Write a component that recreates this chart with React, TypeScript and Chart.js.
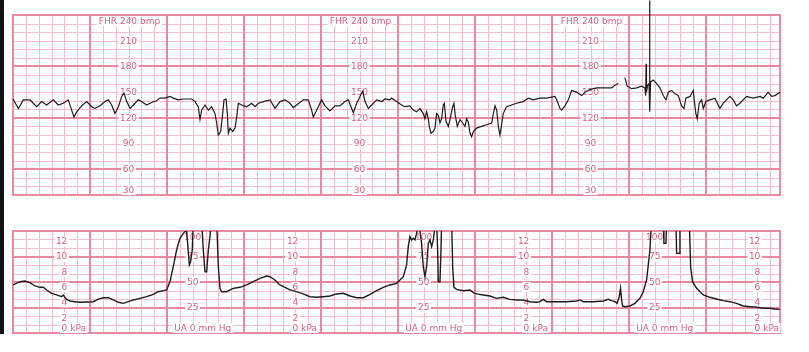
import React, { useEffect, useRef } from "react";
import { Chart, registerables } from "chart.js";
Chart.register(...registerables);

// time in seconds from strip start
const FHR_TIME = [0,4.2,8,13.2,15.8,18.4,22.3,26.2,31.4,35.3,39.2,43.1,45.7,47.5,49.6,53.5,57.4,61.3,63.9,67.8,71.7,74.3,76.9,79.5,82.1,84.7,86.5,88.6,91.2,93.8,97.6,100.2,104.1,108,111.9,114.5,118.4,122.3,124.9,128.8,132.7,139.2,141.8,144.4,145.7,147,149.6,152.2,154.8,157.4,158.7,160,161.8,163.4,164.4,166,167,167.8,169.1,171.2,173,174.3,175.6,178.2,182.1,186,188.6,191.2,195.1,
200.3,204.2,208,212,215.8,218.4,221,226.2,230.1,232.7,234,236.6,240.5,243.1,247,250.9,254.8,258.7,261.3,263.9,265.2,267.8,270.4,272.5,274.3,276.9,279.5,283.4,287.3,289.8,293.7,295,298.9,302.8,305.4,309.3,311.9,314.5,317.1,319.7,321,322.3,323.6,324.4,325.7,327.5,328.8,330.1,331.4,332.7,334,335.3,336.1,337.4,339.2,340.5,342.6,343.6,344.6,346.2,348.3,350.4,352.2,353.5,354.8,356.1,357.4,358.7,361.3,365.2,369.1,373,374.3,375.6,376.9,378.2,379.4,380.7,382,384.6,388.5,392.4,397.6,401.5,405.4,
410.6,415.8,422.3,423.6,426.2,427.5,430.1,432.7,435.3,439.2,443.1,445.7,449.6,454.7,461.2,466.4,469,471.6,474,476.8,478.6,482,485.9,489.8,492.4,493,493.3,493.6,494.5,495.6,496,496.3,496.8,498.9,501.5,504.1,506.7,508.8,510.6,513.2,515.8,518.4,521,522.8,524.3,527.5,530.1,530.8,532.1,533.2,534.7,536.6,537.9,539.9,543,547,550.8,553.4,558.6,561.2,563.8,566.4,571.6,576.8,582,584.6,588.5,591.1,593.7,597.6];
const FHR_BPM = [142,131,141,141,137,133,139,135,141,135,137,141,129,121,127,134,139,133,131,134,139,141,135,125,133,145,149,139,131,135,141,139,135,138,140,143,143,145,143,141,142,142,139,133,118,129,135,129,133,125,114,100,104,125,141,142,125,102,108,104,108,121,137,135,133,137,133,137,139,
141,131,139,141,137,132,135,141,141,129,121,129,141,134,128,134,134,139,141,131,126,137,145,151,139,131,135,141,139,142,141,143,139,135,133,134,129,127,131,125,119,127,119,110,102,104,108,125,123,114,119,135,137,116,110,118,133,137,123,110,118,114,110,119,115,102,98,104,108,110,112,114,125,134,129,110,100,112,125,133,135,137,139,143,141,
143,143,145,141,131,129,134,141,152,150,146,150,153,155,155,155,158,160,null,167,157,154,155,157,155,146,183,150,158,160,257,127,162,164,160,155,146,141,150,152,148,146,134,131,143,145,152,141,125,119,137,141,131,139,141,143,131,137,145,141,134,137,145,143,145,143,150,145,146,150];

const UA_TIME = [0,5.5,9.3,13.2,17.1,21,23.6,26.2,30.1,34,37.9,39.2,41.8,44.4,48.3,52.2,57.4,62.6,66.5,70.4,74.3,78.2,82.1,86,89.9,93.8,99,104.1,109.3,113.2,117.1,119.7,122.3,124.9,127.5,130.1,132.7,134,135.3,136.1,137.4,138.4,139.7,140.5,147,148.3,149.6,150.9,152.2,153.5,154.5,158.7,160,161.3,162.6,166.5,169.1,171.7,176.9,182.1,187.2,192.4,197.6,
200.3,204.1,208,211.9,215.8,221,226.2,231.4,236.6,241.8,247,252.2,257.4,262.6,267.8,273,278.2,283.4,288.5,293.7,298.9,301.5,304.1,306.7,308,309.3,310.6,311.9,313.2,314.5,315.8,317.1,318.4,319.7,321,322.3,323.6,324.9,326.2,327.5,329.3,330.1,330.9,331.4,332.7,333.5,334,341.8,342.6,343.6,345.7,350.9,356.1,358.7,361.3,366.5,371.7,376.8,382,387.2,392.4,397.6,402.8,408,
410.6,413.2,415.8,423.6,431.4,439.2,441.8,444.4,452.2,460,463.8,466.4,469,470.8,472.4,473.4,474.2,475,476.8,480.7,484.6,488.5,491.1,493.7,495,496.3,497.6,506.7,507.2,508.8,509.3,516.6,517.1,519.2,519.7,527,528,529.5,532.7,535.3,537.9,543,548.2,553.4,558.6,563.8,569,574.2,579.4,584.6,589.8,593.7,597.6];
const UA_MMHG = [47.1,50.3,51,49.4,46.1,44.8,44.8,42.2,38.9,37.3,35.6,37.3,33,31.4,30.7,30.1,30.4,30.7,33.3,34.6,34.6,32.4,30.1,29.1,30.7,32.4,34,35.6,37.9,40.5,41.5,42.2,50.3,65,81.4,92.8,97.7,99.4,99.4,87.9,66.7,69.9,81.4,110,110,81.4,60.1,60.1,81.4,94.5,110,110,65,43.8,40.5,40.5,42.2,43.8,44.8,47.1,50.3,53.6,55.9,
55.2,52,47.1,44.8,42.2,40.5,38.3,35.6,35,35.6,36.3,38.3,38.9,36.3,34.6,34.6,37.9,41.5,44.8,47.1,48.7,52,55.2,66.7,84.6,94.5,91.2,92.8,91.2,97.7,110,99.4,87.9,65,55.2,65,87.9,91.2,84.6,91.2,110,110,81.4,50.3,50.3,81.4,110,110,65,44.8,42.8,41.5,42.2,39.6,38.3,37.3,36.3,34,35,33,32.4,32.4,30.7,30.1,
30.7,33,30.7,30.7,30.7,31.4,32.4,30.7,30.7,31.4,33,31.7,30.7,29.1,35.6,43.8,32.4,26.5,25.8,26.5,29.1,34,40.5,52,66.7,81.4,110,110,87.9,87.9,110,110,78.1,78.1,110,110,65,50.3,43.8,40.5,37.3,35,33.3,31.7,30.7,29.1,26.5,25.8,25.2,24.2,24.2,23.5,23.2];

const STRIP_SECONDS = 597.66;
const FHR_MIN = 30;
const FHR_MAX = 240;
const FHR_TICKS = [60, 90, 120, 150, 180, 210];
const UA_MAX = 100;
const KPA_TICKS = [2, 4, 6, 8, 10, 12];
const MMHG_TICKS = [25, 50, 75];
const FHR_LABEL_TIMES = [90, 270, 450];
const KPA_LABEL_TIMES = [40, 220, 400, 580];
const UA_LABEL_TIMES = [140, 320, 500];
const KPA_TO_MMHG = 7.50062;

const MINOR = "#f5bccb";
const MAJOR = "#e98aa1";
const TEXT = "#d9607d";
const FONT = "9px 'DejaVu Sans'";

function pts(t: number[], v: (number | null)[]) {
  return t.map((x, i) => ({ x, y: v[i] }));
}

function drawLabel(ctx: CanvasRenderingContext2D, xc: number, yc: number, num: string, pre: string, suf: string, align: string) {
  ctx.font = FONT;
  const wn = ctx.measureText(num).width;
  const wp = ctx.measureText(pre).width;
  const ws = ctx.measureText(suf).width;
  const numStart = align === "right" ? xc - wn : xc - wn / 2;
  const start = numStart - wp;
  ctx.fillStyle = "#ffffff";
  ctx.fillRect(start - 1.5, yc - 5, wp + wn + ws + 3, 10);
  ctx.fillStyle = TEXT;
  ctx.textBaseline = "middle";
  ctx.textAlign = "left";
  ctx.fillText(pre + num + suf, start, yc + 0.5);
}

function gridPlugin(kind: "fhr" | "ua") {
  return {
    id: "ctgGrid" + kind,
    beforeDatasetsDraw(chart: any) {
      const ctx = chart.ctx as CanvasRenderingContext2D;
      const xs = chart.scales.x;
      const ys = chart.scales.y;
      const a = chart.chartArea;
      ctx.save();
      ctx.fillStyle = "#ffffff";
      ctx.fillRect(a.left, a.top, a.right - a.left, a.bottom - a.top);
      const vline = (t: number, major: boolean) => {
        const x = Math.round(xs.getPixelForValue(t));
        ctx.strokeStyle = major ? MAJOR : MINOR;
        ctx.lineWidth = major ? 2 : 1;
        ctx.beginPath();
        ctx.moveTo(major ? x : x + 0.5, a.top);
        ctx.lineTo(major ? x : x + 0.5, a.bottom);
        ctx.stroke();
      };
      const hline = (v: number, major: boolean) => {
        const y = Math.round(ys.getPixelForValue(v));
        ctx.strokeStyle = major ? MAJOR : MINOR;
        ctx.lineWidth = major ? 2 : 1;
        ctx.beginPath();
        ctx.moveTo(a.left, major ? y : y + 0.5);
        ctx.lineTo(a.right, major ? y : y + 0.5);
        ctx.stroke();
      };
      for (let t = 10; t < STRIP_SECONDS; t += 10) {
        if (t % 60 !== 0) vline(t, false);
      }
      if (kind === "fhr") {
        for (let v = FHR_MIN + 10; v < FHR_MAX; v += 10) if (v % 60 !== 0) hline(v, false);
        for (let v = 60; v < FHR_MAX; v += 60) hline(v, true);
      } else {
        for (let i = 1; i < 12; i++) if (i % 3 !== 0) hline((UA_MAX * i) / 12, false);
        for (let i = 3; i < 12; i += 3) hline((UA_MAX * i) / 12, true);
      }
      for (let t = 60; t < STRIP_SECONDS; t += 60) vline(t, true);
      ctx.strokeStyle = MAJOR;
      ctx.lineWidth = 2;
      ctx.strokeRect(a.left, a.top, a.right - a.left, a.bottom - a.top);

      if (kind === "fhr") {
        FHR_LABEL_TIMES.forEach((t) => {
          const x = xs.getPixelForValue(t);
          drawLabel(ctx, x, a.top + 6, String(FHR_MAX), "FHR ", " bmp", "center");
          FHR_TICKS.forEach((v) => drawLabel(ctx, x, ys.getPixelForValue(v), String(v), "", "", "center"));
          drawLabel(ctx, x, a.bottom - 5, String(FHR_MIN), "", "", "center");
        });
      } else {
        KPA_LABEL_TIMES.forEach((t) => {
          const x = xs.getPixelForValue(t) + 3;
          KPA_TICKS.forEach((k) => drawLabel(ctx, x, ys.getPixelForValue(k * KPA_TO_MMHG), String(k), "", "", "right"));
          drawLabel(ctx, x, a.bottom - 5, "0", "", " kPa", "right");
        });
        UA_LABEL_TIMES.forEach((t) => {
          const x = xs.getPixelForValue(t);
          drawLabel(ctx, x, a.top + 6, String(UA_MAX), "", "", "center");
          MMHG_TICKS.forEach((v) => drawLabel(ctx, x, ys.getPixelForValue(v), String(v), "", "", "center"));
          drawLabel(ctx, x, a.bottom - 5, "0", "UA ", " mm Hg", "center");
        });
      }
      ctx.restore();
    },
  };
}

function makeChart(canvas: HTMLCanvasElement, kind: "fhr" | "ua") {
  const isF = kind === "fhr";
  return new Chart(canvas, {
    type: "line",
    data: {
      datasets: [
        {
          data: isF ? pts(FHR_TIME, FHR_BPM) : pts(UA_TIME, UA_MMHG),
          borderColor: "#1c1c1c",
          borderWidth: isF ? 1.2 : 1.4,
          pointRadius: 0,
          tension: 0,
          spanGaps: false,
          clip: isF ? false : 0,
        } as any,
      ],
    },
    options: {
      responsive: false,
      animation: false,
      events: [],
      layout: { padding: isF ? { left: 13, right: 29, top: 15, bottom: 5 } : { left: 13, right: 29, top: 31, bottom: 19 } },
      plugins: { legend: { display: false }, tooltip: { enabled: false } },
      scales: {
        x: { type: "linear", min: 0, max: STRIP_SECONDS, display: false },
        y: { type: "linear", min: isF ? FHR_MIN : 0, max: isF ? FHR_MAX : UA_MAX, display: false },
      },
    },
    plugins: [gridPlugin(kind)],
  });
}

export default function App() {
  const topRef = useRef<HTMLCanvasElement>(null);
  const botRef = useRef<HTMLCanvasElement>(null);
  useEffect(() => {
    const c1 = makeChart(topRef.current!, "fhr");
    const c2 = makeChart(botRef.current!, "ua");
    return () => {
      c1.destroy();
      c2.destroy();
    };
  }, []);
  return (
    <div style={{ position: "fixed", left: 0, top: 0, width: 809, height: 352, background: "#ffffff" }}>
      <canvas ref={topRef} width={809} height={200} style={{ position: "absolute", left: 0, top: 0, width: 809, height: 200 }} />
      <canvas ref={botRef} width={809} height={152} style={{ position: "absolute", left: 0, top: 200, width: 809, height: 152 }} />
      <div style={{ position: "absolute", left: 0, top: 0, width: 4, height: 334, background: "#111" }} />
    </div>
  );
}
